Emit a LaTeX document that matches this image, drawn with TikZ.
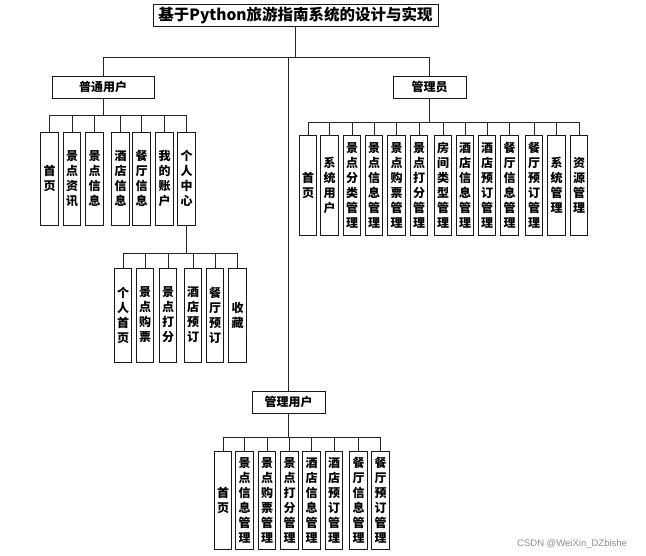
\documentclass[tikz,border=0pt]{standalone}
\usepackage{fontspec}
\setmainfont{Noto Sans CJK SC}
\newfontfamily\wmfont{Liberation Sans}
\begin{document}
\begin{tikzpicture}[x=1pt,y=-1pt,
  box/.style={draw=black!90,line width=0.9pt,fill=white,inner sep=0pt,align=center,
    font=\fontsize{12}{15}\selectfont\bfseries},
  hbox/.style={box,minimum height=22pt},
  vbox/.style={box,minimum width=17.5pt},
  conn/.style={draw=black!85,line width=0.85pt}]
\useasboundingbox (0,0) rectangle (646,556);
% title
\node[hbox,minimum width=285pt,font=\fontsize{15.5}{18}\selectfont\bfseries] (title) at (295.5,15) {基于Python旅游指南系统的设计与实现};
\node[hbox,minimum width=102pt] (pu) at (103,87) {普通用户};
\node[hbox,minimum width=73pt] (adm) at (429.5,87) {管理员};
\node[hbox,minimum width=73pt] (gu) at (288.5,402) {管理用户};
% ordinary users row
\foreach \n/\x/\t in {u1/49.5/首\\页, u2/72/景\\点\\资\\讯, u3/94.5/景\\点\\信\\息, u4/120.5/酒\\店\\信\\息,
  u5/141.5/餐\\厅\\信\\息, u6/164.5/我\\的\\账\\户, u7/186.5/个\\人\\中\\心}
  \node[vbox,minimum height=93pt] (\n) at (\x,178.5) {\t};
% personal centre row
\foreach \n/\x/\t in {p1/123/个\\人\\首\\页, p2/145/景\\点\\购\\票, p3/168/景\\点\\打\\分,
  p4/193/酒\\店\\预\\订, p5/215/餐\\厅\\预\\订, p6/237.5/收\\藏}
  \node[vbox,minimum height=94pt] (\n) at (\x,315) {\t};
% admin row
\foreach \n/\x/\t in {a1/308/首\\页, a2/329.5/系\\统\\用\\户, a3/352/景\\点\\分\\类\\管\\理,
  a4/374/景\\点\\信\\息\\管\\理, a5/396.5/景\\点\\购\\票\\管\\理, a6/419/景\\点\\打\\分\\管\\理,
  a7/443/房\\间\\类\\型\\管\\理, a8/465/酒\\店\\信\\息\\管\\理, a9/487/酒\\店\\预\\订\\管\\理,
  a10/509.5/餐\\厅\\信\\息\\管\\理, a11/534/餐\\厅\\预\\订\\管\\理, a12/556.5/系\\统\\管\\理,
  a13/579/资\\源\\管\\理}
  \node[vbox,minimum height=100pt] (\n) at (\x,185) {\t};
% management users row
\foreach \n/\x/\t in {g1/223/首\\页, g2/244.5/景\\点\\信\\息\\管\\理, g3/267/景\\点\\购\\票\\管\\理,
  g4/289.5/景\\点\\打\\分\\管\\理, g5/311.5/酒\\店\\信\\息\\管\\理, g6/334/酒\\店\\预\\订\\管\\理,
  g7/358.5/餐\\厅\\信\\息\\管\\理, g8/380.5/餐\\厅\\预\\订\\管\\理}
  \node[vbox,minimum height=98pt] (\n) at (\x,500) {\t};
% buses
\coordinate (tb) at (295.5,57);
\coordinate (ub) at (103,115);
\coordinate (pb) at (186.5,253);
\coordinate (ab) at (429.5,122);
\coordinate (gb) at (288.5,437);
\draw[conn] (title) -- (tb);
\draw[conn] (tb) -| (pu.north);
\draw[conn] (tb) -| (adm.north);
\draw[conn] (tb -| gu.north) -- (gu.north);
\draw[conn] (pu.south) -- (ub);
\foreach \n in {u1,u2,u3,u4,u5,u6,u7} \draw[conn] (ub) -| (\n.north);
\draw[conn] (u7.south) -- (pb);
\foreach \n in {p1,p2,p3,p4,p5,p6} \draw[conn] (pb) -| (\n.north);
\draw[conn] (adm.south) -- (ab);
\foreach \n in {a1,a2,a3,a4,a5,a6,a7,a8,a9,a10,a11,a12,a13} \draw[conn] (ab) -| (\n.north);
\draw[conn] (gu.south) -- (gb);
\foreach \n in {g1,g2,g3,g4,g5,g6,g7,g8} \draw[conn] (gb) -| (\n.north);
% watermark
\node[text=black!45,font=\wmfont\fontsize{9.5}{11}\selectfont,anchor=west,inner sep=0pt] (wm) at (517,544) {CSDN @WeiXin\_DZbishe};
\end{tikzpicture}
\end{document}
